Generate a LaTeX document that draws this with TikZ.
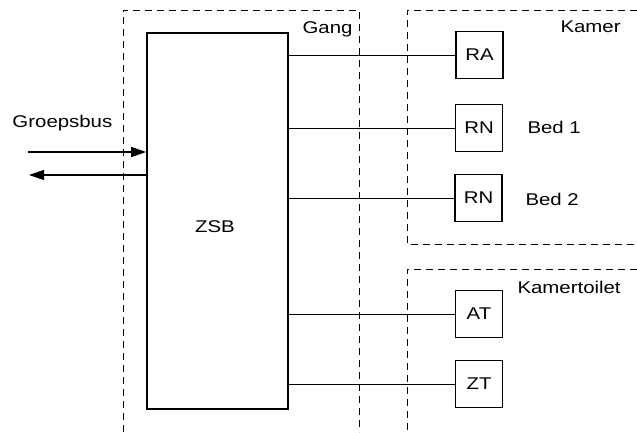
\documentclass[tikz,border=0pt]{standalone}
\usepackage{fontspec}
\setmainfont{Liberation Sans}[FakeStretch=1.2]
\usetikzlibrary{positioning, arrows.meta}

\begin{document}
\begin{tikzpicture}[x=1pt, y=-1pt, line width=1pt, font=\fontsize{17}{20}\selectfont,
    region/.style={draw, dashed, dash pattern=on 7pt off 5pt, line width=0.9pt},
    unit/.style={draw, line width=1.4pt, minimum width=47pt, minimum height=47pt, inner sep=0pt},
    bus/.style={-{Triangle[length=15pt, width=10pt]}, line width=1.1pt}]
    \useasboundingbox (0,0) rectangle (637,432);
    % zones
    \draw[region] (123,432) -- (123,10) -- (359,10) -- (359,432);
    \draw[region] (637,10) -- (407,10) -- (407,244) -- (637,244);
    \draw[region] (637,269) -- (407,269) -- (407,432);
    \node[anchor=base east, inner sep=0pt] (gang) at (353,33) {Gang};
    \node[anchor=base west, inner sep=0pt] (kamer) at (560,32) {Kamer};
    \node[anchor=base west, inner sep=0pt] (toilet) at (517,293) {Kamertoilet};
    % central unit
    \node[draw, line width=1.6pt, minimum width=141pt, minimum height=376pt] (zsb) at (217.5,221) {};
    \node (zsblabel) at (215,227) {ZSB};
    % room units
    \node[unit] (RA) at (479.5,55) {RA};
    \node[unit] (RN1) at (479,128) {RN};
    \node[unit] (RN2) at (478.5,198) {RN};
    \node[unit] (AT) at (479,314) {AT};
    \node[unit] (ZT) at (479,384) {ZT};
    \node[anchor=base west, inner sep=0pt] (bed1) at (527,133) {Bed 1};
    \node[anchor=base west, inner sep=0pt] (bed2) at (525,205) {Bed 2};
    \draw (zsb.east |- RA) -- (RA);
    \draw (zsb.east |- RN1) -- (RN1);
    \draw (zsb.east |- RN2) -- (RN2);
    \draw (zsb.east |- AT) -- (AT);
    \draw (zsb.east |- ZT) -- (ZT);
    % group bus
    \node[anchor=base west, inner sep=0pt] (groepsbus) at (12,127) {Groepsbus};
    \coordinate (busin) at (28,152);
    \coordinate (busout) at (29,175);
    \draw[bus] (busin) -- (zsb.west |- busin);
    \draw[bus] (zsb.west |- busout) -- (busout);
\end{tikzpicture}
\end{document}
